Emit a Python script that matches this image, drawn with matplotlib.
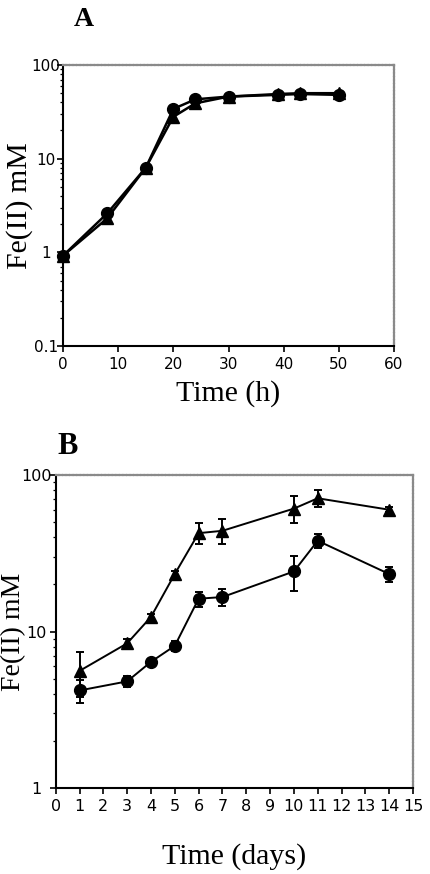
import matplotlib
matplotlib.use("Agg")
import matplotlib.pyplot as plt
from matplotlib.ticker import LogLocator, NullFormatter, FixedLocator, FixedFormatter

# ---- Panel A data ----
a_time = [0, 8, 15, 20, 24, 30, 39, 43, 50]
a_circle = [0.92, 2.6, 8.0, 34, 43, 46, 48, 49, 48]
a_circle_err = [0.05, 0.2, 0.5, 2, 2, 3, 3, 3, 3]
a_triangle = [0.92, 2.3, 8.0, 28, 39, 46, 49, 50, 50]
a_triangle_err = [0.05, 0.2, 0.5, 2, 2, 3, 3, 3, 3]

# ---- Panel B data ----
b_days = [1, 3, 4, 5, 6, 7, 10, 11, 14]
b_triangle = [5.6, 8.4, 12.4, 23.3, 42.5, 44, 61, 71, 60]
b_triangle_err = [1.8, 0.5, 0.5, 1.2, 6.5, 8, 12, 9, 2]
b_circle = [4.2, 4.8, 6.4, 8.1, 16.2, 16.6, 24.2, 38, 23.3]
b_circle_err = [0.7, 0.4, 0.3, 0.6, 1.8, 2.0, 6.0, 4.0, 2.5]

a_xticks = [0, 10, 20, 30, 40, 50, 60]
a_yticks = [0.1, 1, 10, 100]
a_yticklabels = ["0.1", "1", "10", "100"]
b_xticks = list(range(0, 16))
b_yticks = [1, 10, 100]
b_yticklabels = ["1", "10", "100"]

serif = "Liberation Serif"
sans = "DejaVu Sans"

W, H = 430, 874
fig = plt.figure(figsize=(W / 100, H / 100), dpi=100)

def axes_px(left, top, right, bottom):
    return fig.add_axes([left / W, 1 - bottom / H, (right - left) / W, (bottom - top) / H])

def style(ax, pad_y, fs):
    for s in ["top", "right"]:
        ax.spines[s].set_color("#8a8a8a")
        ax.spines[s].set_linewidth(1.6)
        ax.spines[s].set_linestyle((0, (1, 0.6)))
    for s in ["left", "bottom"]:
        ax.spines[s].set_color("black")
        ax.spines[s].set_linewidth(1.5)
    ax.tick_params(axis="both", which="major", direction="out", length=4, width=1.2,
                   colors="black", labelsize=fs)
    ax.tick_params(axis="y", which="minor", direction="out", length=2.5, width=0.9)
    ax.tick_params(axis="y", which="major", pad=pad_y)
    ax.tick_params(axis="x", which="major", pad=4)
    ax.tick_params(top=False, right=False, which="both")
    for lab in ax.get_yticklabels():
        lab.set_horizontalalignment("center")
        lab.set_fontfamily(sans)
    for lab in ax.get_xticklabels():
        lab.set_fontfamily(sans)

# ---------- Panel A ----------
axA = axes_px(63, 65, 394, 346)
axA.set_yscale("log")
axA.errorbar(a_time, a_triangle, yerr=a_triangle_err, color="black", marker="^",
             markersize=8.5, linewidth=1.8, capsize=3, elinewidth=1.2, clip_on=False, zorder=3)
axA.errorbar(a_time, a_circle, yerr=a_circle_err, color="black", marker="o",
             markersize=8.5, linewidth=1.8, capsize=3, elinewidth=1.2, clip_on=False, zorder=4)
axA.set_xlim(0, 60)
axA.set_ylim(0.1, 100)
axA.xaxis.set_major_locator(FixedLocator(a_xticks))
axA.yaxis.set_major_locator(FixedLocator(a_yticks))
axA.yaxis.set_major_formatter(FixedFormatter(a_yticklabels))
axA.yaxis.set_minor_locator(LogLocator(base=10, subs=range(2, 10)))
axA.yaxis.set_minor_formatter(NullFormatter())
style(axA, 8.3, 11)
axA.set_xlabel("Time (h)", fontfamily=serif, fontsize=21.5, labelpad=5.5)
axA.set_ylabel("Fe(II) mM", fontfamily=serif, fontsize=21.5)
axA.yaxis.set_label_coords((33 - 63) / (394 - 63), 0.5)
fig.text(84 / W, 1 - 19 / H, "A", fontfamily=serif, fontweight="bold", fontsize=20,
         ha="center", va="center")

# ---------- Panel B ----------
axB = axes_px(55.7, 475, 413, 788)
axB.set_yscale("log")
axB.errorbar(b_days, b_triangle, yerr=b_triangle_err, color="black", marker="^",
             markersize=8.5, linewidth=1.4, capsize=3, elinewidth=1.4, capthick=1.4, zorder=3)
axB.errorbar(b_days, b_circle, yerr=b_circle_err, color="black", marker="o",
             markersize=8.5, linewidth=1.4, capsize=3, elinewidth=1.4, capthick=1.4, zorder=4)
axB.set_xlim(0, 15)
axB.set_ylim(1, 100)
axB.xaxis.set_major_locator(FixedLocator(b_xticks))
axB.yaxis.set_major_locator(FixedLocator(b_yticks))
axB.yaxis.set_major_formatter(FixedFormatter(b_yticklabels))
axB.yaxis.set_minor_locator(LogLocator(base=10, subs=range(2, 10)))
axB.yaxis.set_minor_formatter(NullFormatter())
style(axB, 10, 11.5)
axB.set_xlabel("Time (days)", fontfamily=serif, fontsize=21.5, labelpad=21)
axB.set_ylabel("Fe(II) mM", fontfamily=serif, fontsize=20)
axB.yaxis.set_label_coords((26 - 55.7) / (413 - 55.7), 0.5)
fig.text(68 / W, 1 - 447 / H, "B", fontfamily=serif, fontweight="bold", fontsize=22,
         ha="center", va="center")

fig.savefig("out.png", dpi=100, facecolor="white")
